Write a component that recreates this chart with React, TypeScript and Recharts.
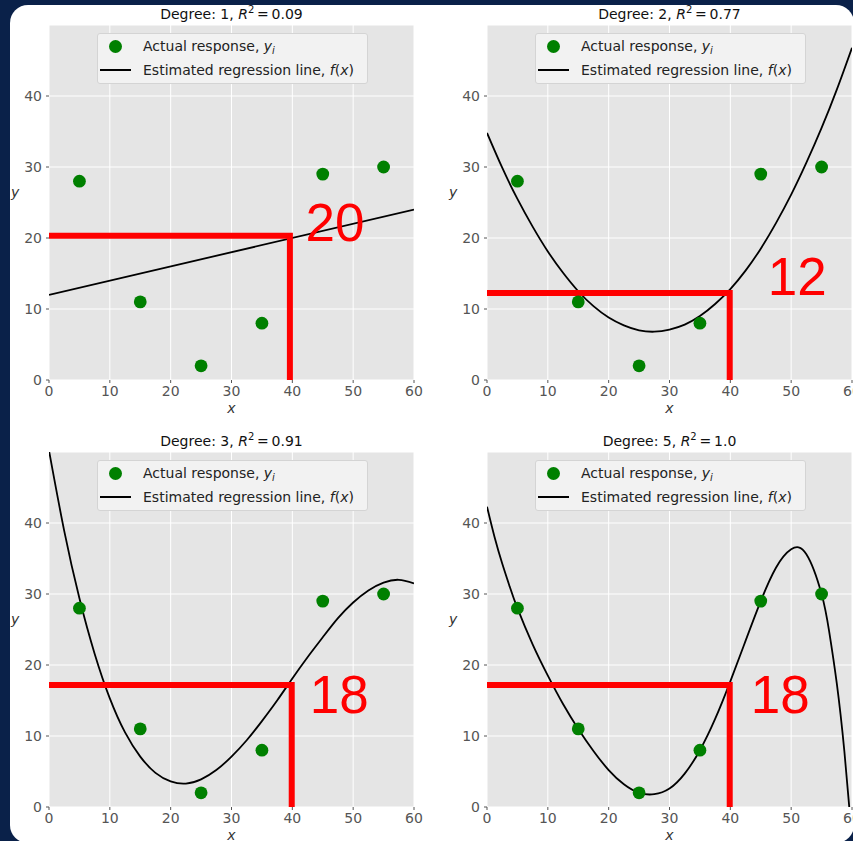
import React from "react";
import { CartesianGrid, ComposedChart, Line, Scatter, XAxis, YAxis } from "recharts";

const X_TICKS = [0, 10, 20, 30, 40, 50, 60];
const Y_TICKS = [0, 10, 20, 30, 40];

// observed points
const sampleX = [5, 15, 25, 35, 45, 55];
const sampleY = [28, 11, 2, 8, 29, 30];

// fitted curves
const deg1X = [0, 60];
const deg1Y = [12, 24];

const curveX = [0, 2.5, 5, 7.5, 10, 12.5, 15, 17.5, 20, 22.5, 25, 27.5, 30, 32.5, 35, 37.5, 40, 42.5, 45, 47.5, 50, 52.5, 55, 57.5, 60];
const deg2Y = [34.8, 29.9, 25.5, 21.6, 18.1, 15.1, 12.5, 10.4, 8.8, 7.7, 7.0, 6.8, 7.1, 7.8, 9.0, 10.7, 12.8, 15.4, 18.5, 22.1, 26.1, 30.6, 35.5, 40.9, 46.8];
const deg3Y = [50.2, 38.9, 29.4, 21.6, 15.3, 10.5, 7.1, 4.8, 3.6, 3.3, 3.9, 5.2, 7.1, 9.4, 12.1, 15.0, 18.1, 21.1, 23.9, 26.6, 28.8, 30.5, 31.6, 32.0, 31.5];

const deg5X = [0, 1.25, 2.5, 3.75, 5, 7.5, 10, 12.5, 15, 17.5, 20, 22.5, 25, 27.5, 30, 32.5, 35, 37.5, 40, 42.5, 45, 47.5, 50, 52.5, 55, 56.25, 57.5, 58.75, 60];
const deg5Y = [42.3, 38.0, 34.3, 31.0, 28.0, 22.9, 18.5, 14.5, 11.0, 7.9, 5.2, 3.2, 2.0, 1.8, 2.6, 4.7, 8.0, 12.4, 17.7, 23.4, 29.0, 33.7, 36.3, 35.6, 30.0, 24.7, 17.4, 7.8, -4.4];

// panel annotations
const degrees = [1, 2, 3, 5];
const r2Labels = ["0.09", "0.77", "0.91", "1.0"];
const guideX = [39.6, 39.9, 39.9, 39.9];
const guideY = [20.3, 12.25, 17.2, 17.2];
const guideText = ["20", "12", "18", "18"];
const guideTextX = [47.0, 51.0, 47.7, 48.2];
const guideTextY = [19.6, 12.0, 13.3, 13.3];

const zip = (xs: number[], ys: number[]) => xs.map((x, i) => ({ x, y: ys[i] }));

const curves = [
  zip(deg1X, deg1Y),
  zip(curveX, deg2Y),
  zip(curveX, deg3Y),
  zip(deg5X, deg5Y),
];

const FONT = "'DejaVu Sans', sans-serif";
const W = 430;
const H = 420;
const offsets = [
  [0, 0],
  [438, 0],
  [0, 427],
  [438, 427],
];

function Panel({ idx }: { idx: number }) {
  const [left, top] = offsets[idx];
  const points = zip(sampleX, sampleY);
  const guide = [
    { x: 0, y: guideY[idx] },
    { x: guideX[idx], y: guideY[idx] },
    { x: guideX[idx], y: 0 },
  ];
  const label = [{ x: guideTextX[idx], y: guideTextY[idx] }];
  const tick = { fill: "#555", fontSize: 14, fontFamily: FONT };

  return (
    <div style={{ position: "absolute", left, top, width: W, height: H }}>
      <ComposedChart width={W} height={H} margin={{ top: 25, right: 16, left: 9, bottom: 5 }}>
        <CartesianGrid stroke="#fff" strokeWidth={1} fill="#E5E5E5" />
        <XAxis
          type="number"
          dataKey="x"
          domain={[0, 60]}
          ticks={X_TICKS}
          allowDataOverflow
          height={35}
          axisLine={false}
          tickSize={3}
          tickMargin={3}
          tickLine={{ stroke: "#555" }}
          tick={tick}
          label={{
            value: "x",
            position: "insideBottom",
            offset: 2,
            style: { fontStyle: "italic", fill: "#333", fontSize: 14, fontFamily: FONT },
          }}
        />
        <YAxis
          type="number"
          dataKey="y"
          domain={[0, 50]}
          ticks={Y_TICKS}
          allowDataOverflow
          width={40}
          axisLine={false}
          tickSize={3}
          tickMargin={4}
          tickLine={{ stroke: "#555" }}
          tick={tick}
        />
        <Line
          data={curves[idx]}
          dataKey="y"
          type="natural"
          stroke="#000"
          strokeWidth={1.8}
          dot={false}
          activeDot={false}
          isAnimationActive={false}
        />
        <Scatter
          data={points}
          dataKey="y"
          isAnimationActive={false}
          shape={(p: any) => <circle cx={p.cx} cy={p.cy} r={6.4} fill="#008000" />}
        />
        <Line
          data={guide}
          dataKey="y"
          type="linear"
          stroke="#ff0000"
          strokeWidth={6}
          strokeLinejoin="miter"
          dot={false}
          activeDot={false}
          isAnimationActive={false}
        />
        <Scatter
          data={label}
          dataKey="y"
          isAnimationActive={false}
          shape={(p: any) => (
            <text
              x={p.cx}
              y={p.cy}
              textAnchor="middle"
              fill="#ff0000"
              fontSize={53}
              fontFamily="'Liberation Sans', Arial, sans-serif"
            >
              {guideText[idx]}
            </text>
          )}
        />
      </ComposedChart>

      {/* title */}
      <div
        style={{
          position: "absolute",
          left: 49,
          top: 6,
          width: 365,
          height: 16,
          lineHeight: "16px",
          textAlign: "center",
          fontFamily: FONT,
          fontSize: 14,
          color: "#111",
          whiteSpace: "nowrap",
        }}
      >
        Degree: {degrees[idx]}, <i>R</i>
        <span style={{ fontSize: 10, position: "relative", top: -6 }}>2</span>
        {"\u2009=\u2009"}
        {r2Labels[idx]}
      </div>

      {/* y label */}
      <div
        style={{
          position: "absolute",
          left: 11,
          top: 184,
          fontFamily: FONT,
          fontSize: 14,
          fontStyle: "italic",
          color: "#333",
          lineHeight: "16px",
        }}
      >
        y
      </div>

      {/* legend */}
      <div
        style={{
          position: "absolute",
          left: 97,
          top: 33,
          width: 269,
          height: 49,
          background: "#F2F2F2",
          border: "1px solid #D4D4D4",
          borderRadius: 3,
          fontFamily: FONT,
          fontSize: 14,
          color: "#222",
          whiteSpace: "nowrap",
        }}
      >
        <div
          style={{
            position: "absolute",
            left: 11,
            top: 6,
            width: 13,
            height: 13,
            borderRadius: "50%",
            background: "#008000",
          }}
        />
        <div style={{ position: "absolute", left: 45, top: 4, lineHeight: "16px" }}>
          Actual response, <i>y</i>
          <i style={{ fontSize: 10, position: "relative", top: 3 }}>i</i>
        </div>
        <div
          style={{
            position: "absolute",
            left: 2,
            top: 35,
            width: 31,
            height: 2,
            background: "#000",
          }}
        />
        <div style={{ position: "absolute", left: 45, top: 28, lineHeight: "16px" }}>
          Estimated regression line, <i>f</i>(<i>x</i>)
        </div>
      </div>
    </div>
  );
}

export default function App() {
  return (
    <div
      style={{
        position: "absolute",
        left: 0,
        top: 0,
        width: 853,
        height: 841,
        overflow: "hidden",
        background: "#0a2149",
      }}
    >
      <div
        style={{
          position: "absolute",
          left: 10,
          top: 5,
          width: 844,
          height: 838,
          background: "#fff",
          borderRadius: 18,
        }}
      />
      {degrees.map((_, i) => (
        <Panel key={i} idx={i} />
      ))}
    </div>
  );
}
